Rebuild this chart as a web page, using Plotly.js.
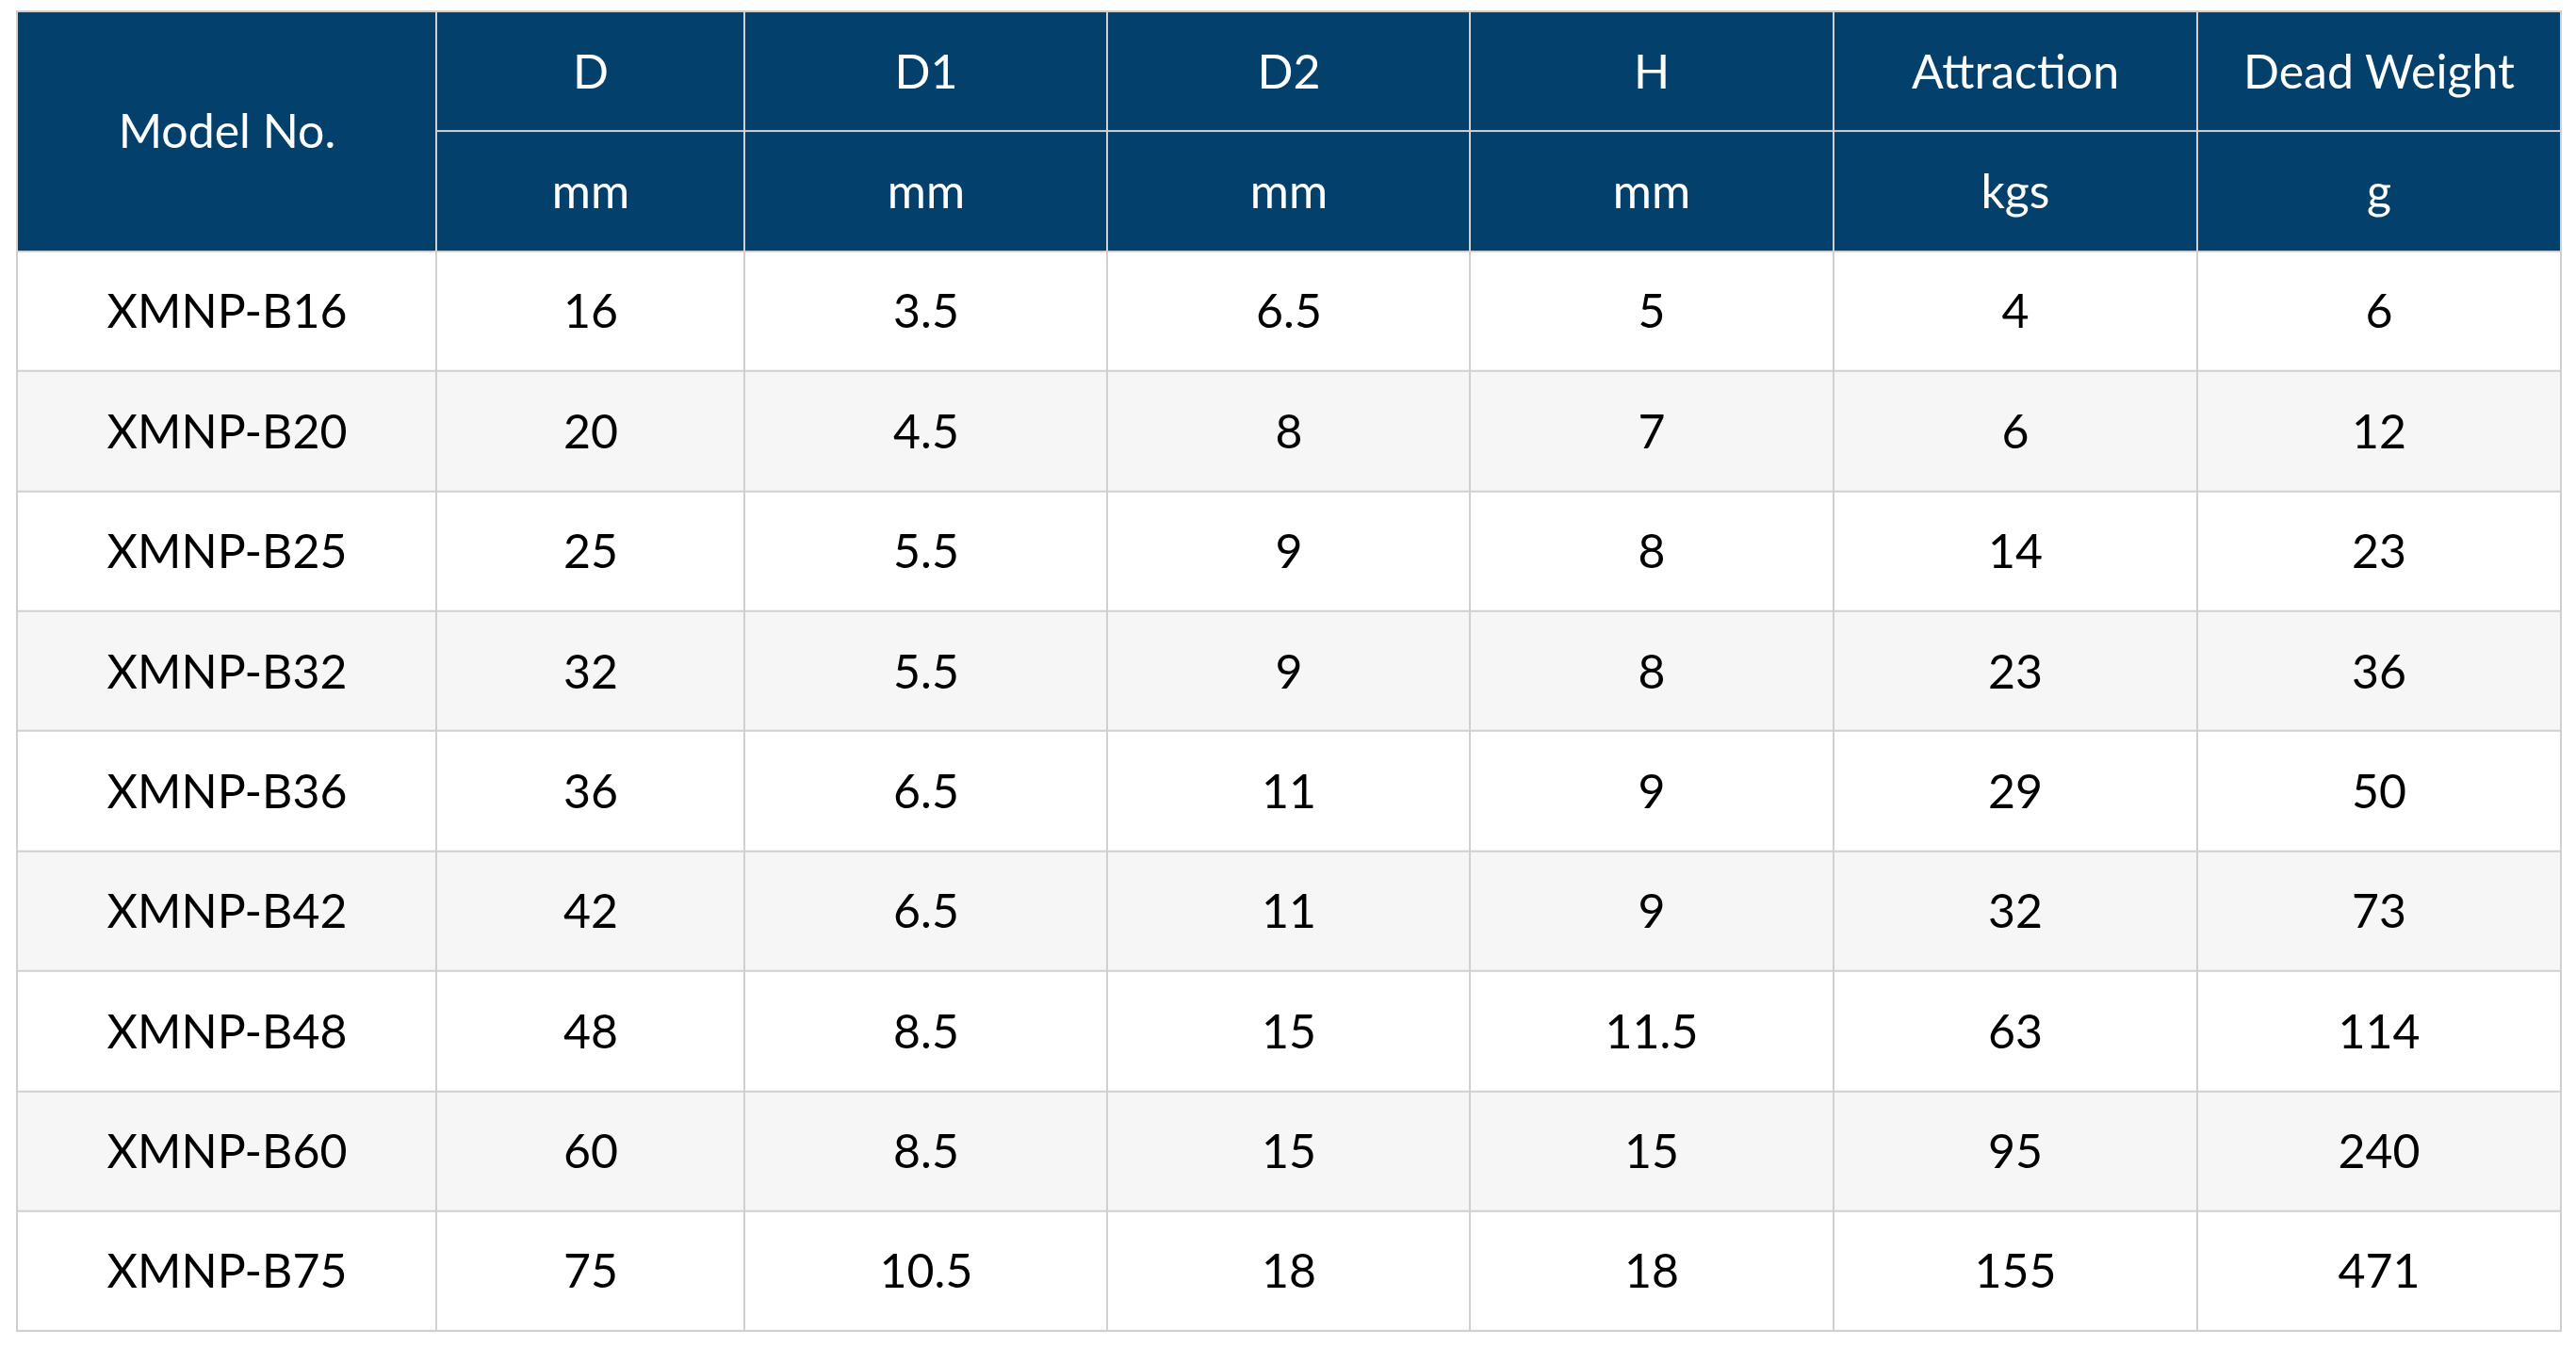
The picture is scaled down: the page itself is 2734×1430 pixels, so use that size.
<!DOCTYPE html>
<html>
<head>
<meta charset="utf-8">
<script src="https://cdn.plot.ly/plotly-3.0.1.min.js"></script>
<style>
  html, body { margin: 0; padding: 0; background: #ffffff; }
  #chart { width: 2734px; height: 1430px; }
</style>
</head>
<body>
<div id="chart"></div>
<script>
// ---- data ----
const modelHeader = 'Model No.';
const columnNames = ['D', 'D1', 'D2', 'H', 'Attraction', 'Dead Weight'];
const units = ['mm', 'mm', 'mm', 'mm', 'kgs', 'g'];
const models = ['XMNP-B16', 'XMNP-B20', 'XMNP-B25', 'XMNP-B32', 'XMNP-B36', 'XMNP-B42', 'XMNP-B48', 'XMNP-B60', 'XMNP-B75'];
const D = [16, 20, 25, 32, 36, 42, 48, 60, 75];
const D1 = [3.5, 4.5, 5.5, 5.5, 6.5, 6.5, 8.5, 8.5, 10.5];
const D2 = [6.5, 8, 9, 9, 11, 11, 15, 15, 18];
const H = [5, 7, 8, 8, 9, 9, 11.5, 15, 18];
const attraction = [4, 6, 14, 23, 29, 32, 63, 95, 155];
const deadWeight = [6, 12, 23, 36, 50, 73, 114, 240, 471];

// ---- style / layout ----
const colWidths = [445, 327, 385, 385, 386, 386, 386];
const headerBlue = '#03406b';
const lineGray = '#d0d0d0';
const fontFamily = 'Lato, "Open Sans", sans-serif';
const fontSize = 50;

const edges = [0];
colWidths.forEach(w => edges.push(edges[edges.length - 1] + w));
const totalW = edges[edges.length - 1];

const valueCols = [D, D1, D2, H, attraction, deadWeight];
const nRows = models.length;
const headerRows = 2;

// body
const bodyText = [], bodyZ = [];
for (let i = 0; i < nRows; i++) {
  const row = [models[i]].concat(valueCols.map(c => String(c[i])));
  bodyText.push(row);
  bodyZ.push(row.map(() => i % 2));
}
const bodyY = [];
for (let r = headerRows; r <= headerRows + nRows; r++) bodyY.push(r);

// header (columns 1..)
const headText = [columnNames.slice(), units.slice()];
const headZ = [columnNames.map(() => 2), units.map(() => 2)];

const colorscale = [[0, '#ffffff'], [0.5, '#f6f6f6'], [1, headerBlue]];
const common = {
  type: 'heatmap', colorscale: colorscale, zmin: 0, zmax: 2, showscale: false,
  xgap: 2, ygap: 2, hoverinfo: 'skip', texttemplate: '%{text}'
};

const traces = [
  Object.assign({}, common, {
    x: [edges[0], edges[1]], y: [0, headerRows], z: [[2]], text: [[modelHeader]],
    textfont: { family: fontFamily, size: fontSize, color: '#ffffff' }
  }),
  Object.assign({}, common, {
    x: edges.slice(1), y: [0, 1, 2], z: headZ, text: headText,
    textfont: { family: fontFamily, size: fontSize, color: '#ffffff' }
  }),
  Object.assign({}, common, {
    x: edges, y: bodyY, z: bodyZ, text: bodyText,
    textfont: { family: fontFamily, size: fontSize, color: '#000000' }
  })
];

const layout = {
  width: 2734, height: 1430,
  margin: { l: 17, r: 15, t: 11, b: 16, pad: 0 },
  paper_bgcolor: '#ffffff',
  plot_bgcolor: lineGray,
  showlegend: false,
  xaxis: { range: [-1, totalW + 1], showgrid: false, zeroline: false, showticklabels: false, ticks: '', fixedrange: true },
  yaxis: { range: [headerRows + nRows + 0.008, -0.008], showgrid: false, zeroline: false, showticklabels: false, ticks: '', fixedrange: true },
  font: { family: fontFamily }
};

Plotly.newPlot('chart', traces, layout, { displayModeBar: false, staticPlot: true });
</script>
</body>
</html>
